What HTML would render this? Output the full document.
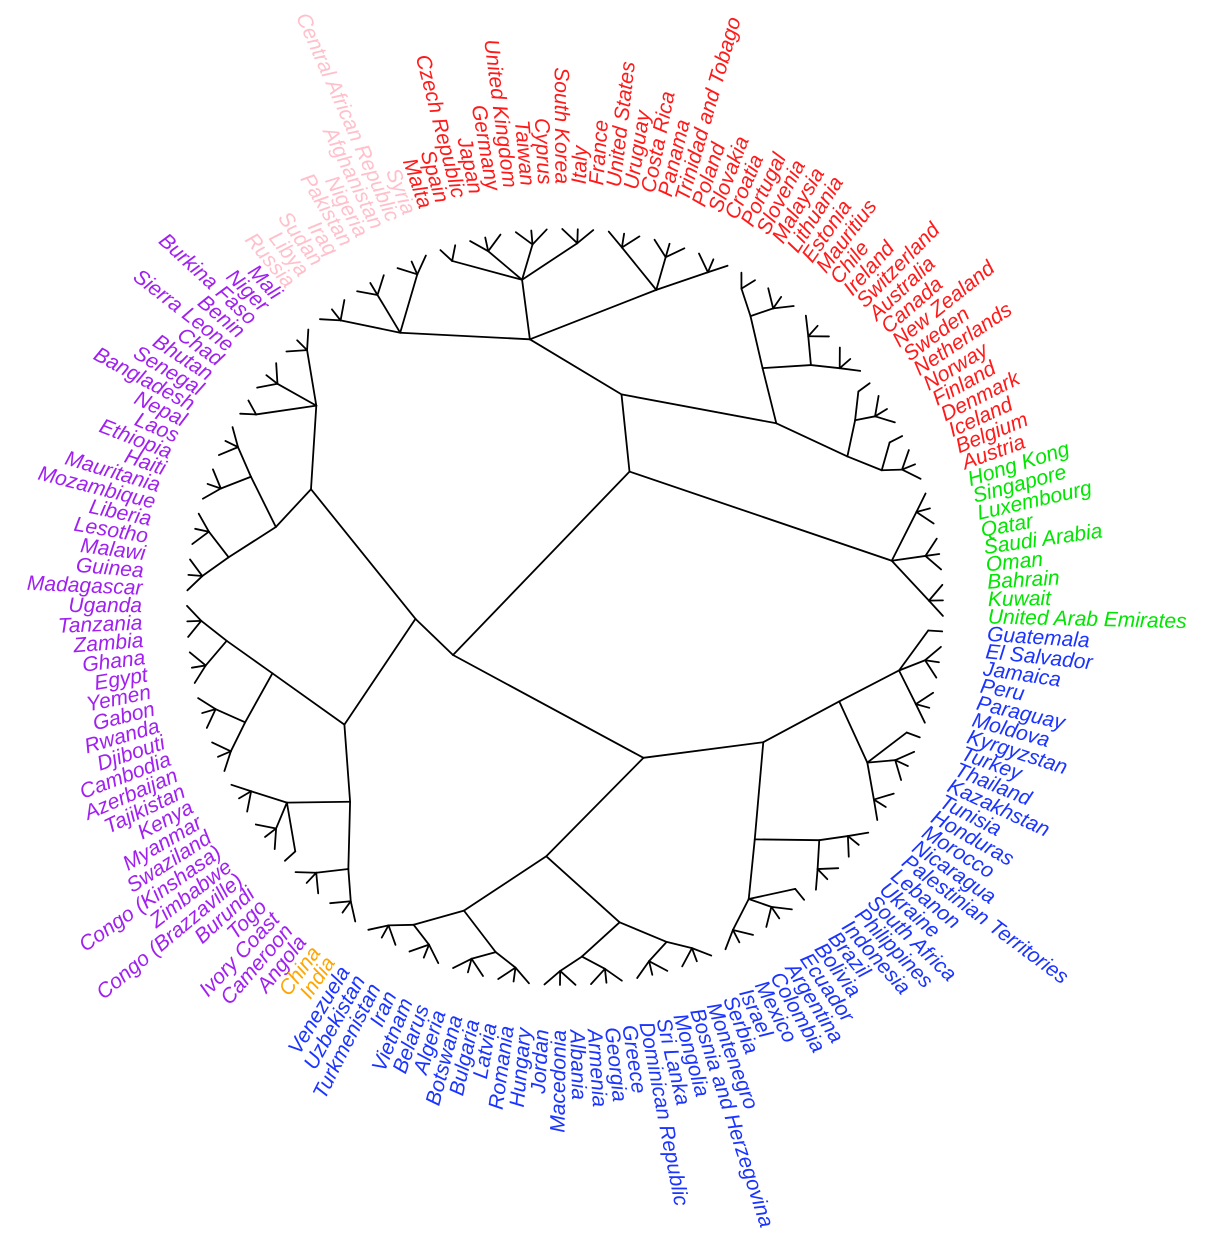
<!DOCTYPE html>
<html><head><meta charset="utf-8"><style>
html,body{margin:0;padding:0;background:#fff}
svg{display:block}
text{font-family:"Liberation Sans",sans-serif;font-style:italic;font-size:21px}
</style></head><body>
<svg id="chart" width="1212" height="1258" viewBox="0 0 1212 1258" xmlns="http://www.w3.org/2000/svg">
<g id="branches"></g>
<g id="labels"></g>
</svg>
<script>
// tip labels in counterclockwise order starting at right
const green = ["United Arab Emirates","Kuwait","Bahrain","Oman","Saudi Arabia","Qatar","Luxembourg","Singapore","Hong Kong"];
const red = ["Austria","Belgium","Iceland","Denmark","Finland","Norway","Netherlands","Sweden","New Zealand","Canada","Australia","Switzerland","Ireland","Chile","Mauritius","Estonia","Lithuania","Malaysia","Slovenia","Portugal","Croatia","Slovakia","Poland","Trinidad and Tobago","Panama","Costa Rica","Uruguay","United States","France","Italy","South Korea","Cyprus","Taiwan","United Kingdom","Germany","Japan","Czech Republic","Spain","Malta"];
const pink = ["Syria","Central African Republic","Afghanistan","Nigeria","Pakistan","Iraq","Sudan","Libya","Russia"];
const purple = ["Mali","Niger","Burkina Faso","Benin","Sierra Leone","Chad","Bhutan","Senegal","Bangladesh","Nepal","Laos","Ethiopia","Haiti","Mauritania","Mozambique","Liberia","Lesotho","Malawi","Guinea","Madagascar","Uganda","Tanzania","Zambia","Ghana","Egypt","Yemen","Gabon","Rwanda","Djibouti","Cambodia","Azerbaijan","Tajikistan","Kenya","Myanmar","Swaziland","Congo (Kinshasa)","Zimbabwe","Congo (Brazzaville)","Burundi","Togo","Ivory Coast","Cameroon","Angola"];
const orange = ["China","India"];
const blue = ["Venezuela","Uzbekistan","Turkmenistan","Iran","Vietnam","Belarus","Algeria","Botswana","Bulgaria","Latvia","Romania","Hungary","Jordan","Macedonia","Albania","Armenia","Georgia","Greece","Dominican Republic","Sri Lanka","Mongolia","Bosnia and Herzegovina","Montenegro","Serbia","Israel","Mexico","Colombia","Argentina","Ecuador","Bolivia","Brazil","Indonesia","Philippines","South Africa","Ukraine","Lebanon","Palestinian Territories","Nicaragua","Morocco","Honduras","Tunisia","Kazakhstan","Thailand","Turkey","Kyrgyzstan","Moldova","Paraguay","Peru","Jamaica","El Salvador","Guatemala"];
// clusters: [firstTip, lastTip, nodeDepth]
const clusterStart = [0,0,9,9,9,9,13,17,17,23,28,28,37,48,57,57,57,65,65,71,77,77,77,83,89,89,96,102,102,102,102,108,114,114,120,126,126,126,133,139,139,146];
const clusterEnd   = [56,8,56,27,16,12,16,27,22,27,56,36,47,56,101,76,64,76,70,76,101,88,82,88,101,95,101,152,125,113,107,113,125,119,125,152,138,132,138,152,145,152];
const clusterDepth = [150,330,220,280,320,345,345,310,345,345,270,330,330,320,150,280,320,300,340,340,250,300,340,340,290,340,340,170,250,320,352,352,320,350,350,240,300,345,345,290,340,340];

const groups=[[green,"#00e600"],[red,"#ff1a1a"],[pink,"#ffc0cb"],[purple,"#a020f0"],[orange,"#ffa500"],[blue,"#1a33ff"]];
const tips=[];groups.forEach(([arr,c])=>arr.forEach(n=>tips.push({n,c})));
const N=tips.length, cx=565, cy=607, R0=-1.35, step=360/N;
const ang=i=>R0+i*step;
const pt=(a,r)=>[cx+r*Math.cos(a*Math.PI/180), cy-r*Math.sin(a*Math.PI/180)];
const NS="http://www.w3.org/2000/svg";
const gB=document.getElementById('branches'), gL=document.getElementById('labels');
function line(p,q,name){const l=document.createElementNS(NS,'line');
l.setAttribute('x1',p[0]);l.setAttribute('y1',p[1]);l.setAttribute('x2',q[0]);l.setAttribute('y2',q[1]);
l.setAttribute('stroke','#000');l.setAttribute('stroke-width','1.8');l.setAttribute('stroke-linecap','round');


gB.appendChild(l);}
// labels
tips.forEach((t,i)=>{const a=ang(i);const p=pt(a,423);const tx=document.createElementNS(NS,'text');
const norm=((a%360)+360)%360;const right=(norm<90||norm>270);
tx.setAttribute('x',p[0]);tx.setAttribute('y',p[1]);tx.setAttribute('fill',t.c);
tx.setAttribute('dominant-baseline','central');tx.setAttribute('text-anchor',right?'start':'end');
tx.setAttribute('transform','rotate('+(right?-a:180-a)+' '+p[0]+' '+p[1]+')');
tx.textContent=t.n;


gL.appendChild(tx);});
// tree
const C=clusterStart.map((s,k)=>({s,e:clusterEnd[k],r:clusterDepth[k]}));
C.forEach(c=>{c.a=(ang(c.s)+ang(c.e))/2;c.p=pt(c.a,c.r);});
function parentOf(self){let best=null;C.forEach(c=>{if(c!==self&&c.s<=self.s&&c.e>=self.e&&(c.e-c.s)>(self.e-self.s)){if(!best||(c.e-c.s)<(best.e-best.s))best=c;}});return best;}
const root=[cx-112,cy+48];
C.forEach(c=>{const par=parentOf(c);line(par?par.p:root,c.p,'internal-branch');});
// leaf clusters: tips grouped in threes
C.forEach(c=>{const hasChild=C.some(d=>d!==c&&d.s>=c.s&&d.e<=c.e&&(d.e-d.s)<(c.e-c.s));if(hasChild)return;
const n=c.e-c.s+1;
if(n<=3){for(let i=c.s;i<=c.e;i++)line(c.p,pt(ang(i),378),'tip-branch');return;}
for(let s=c.s;s<=c.e;s+=3){const e=Math.min(s+2,c.e);const a=(ang(s)+ang(e))/2;const sp=pt(a,364);
line(c.p,sp,'sub-branch');for(let i=s;i<=e;i++)line(sp,pt(ang(i),378),'tip-branch');}});
</script>
</body></html>
